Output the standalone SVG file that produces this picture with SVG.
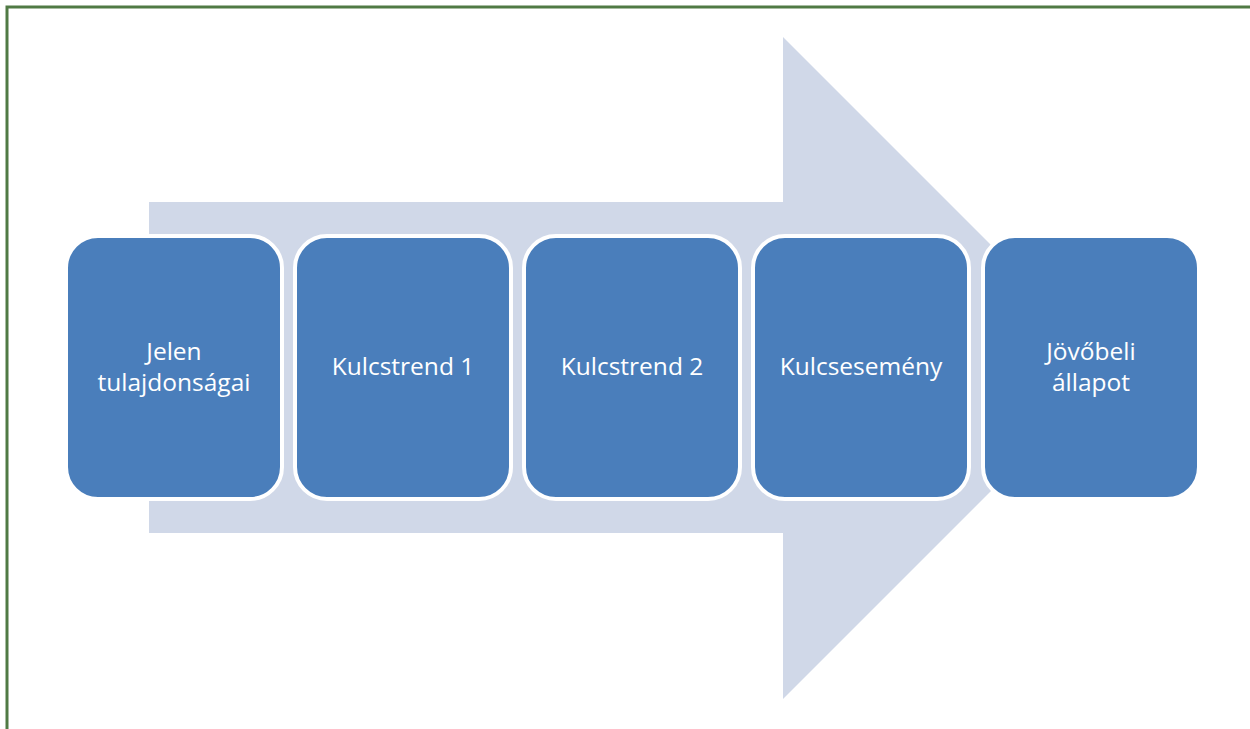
<svg xmlns="http://www.w3.org/2000/svg" width="1250" height="729" viewBox="0 0 1250 729">
<style>
.box{fill:#4A7EBB;stroke:#FFFFFF;stroke-width:4}
.lbl{font-family:"Open Sans","Noto Sans",sans-serif;font-size:24.5px;fill:#FFFFFF;text-anchor:middle}
</style>
<rect x="0" y="0" width="1250" height="729" fill="#FFFFFF"/>
<path d="M7,735 L7,7 L1260,7" fill="none" stroke="#507A44" stroke-width="3"/>
<g id="arrow">
<polygon points="149,202 783,202 783,37 1114,368 783,699 783,533 149,533" fill="#D0D8E8"/>
</g>
<g id="connectors"></g>
<g id="n1"><rect class="box" x="66" y="236" width="216" height="263" rx="32"/><text class="lbl" x="174" y="360">Jelen</text><text class="lbl" x="174" y="391">tulajdonságai</text></g>
<g id="n2"><rect class="box" x="295" y="236" width="216" height="263" rx="32"/><text class="lbl" x="403" y="375">Kulcstrend 1</text></g>
<g id="n3"><rect class="box" x="524" y="236" width="216" height="263" rx="32"/><text class="lbl" x="632" y="375">Kulcstrend 2</text></g>
<g id="n4"><rect class="box" x="753" y="236" width="216" height="263" rx="32"/><text class="lbl" x="861" y="375">Kulcsesemény</text></g>
<g id="n5"><rect class="box" x="983" y="236" width="216" height="263" rx="32"/><text class="lbl" x="1091" y="360">Jövőbeli</text><text class="lbl" x="1091" y="391">állapot</text></g>
</svg>
